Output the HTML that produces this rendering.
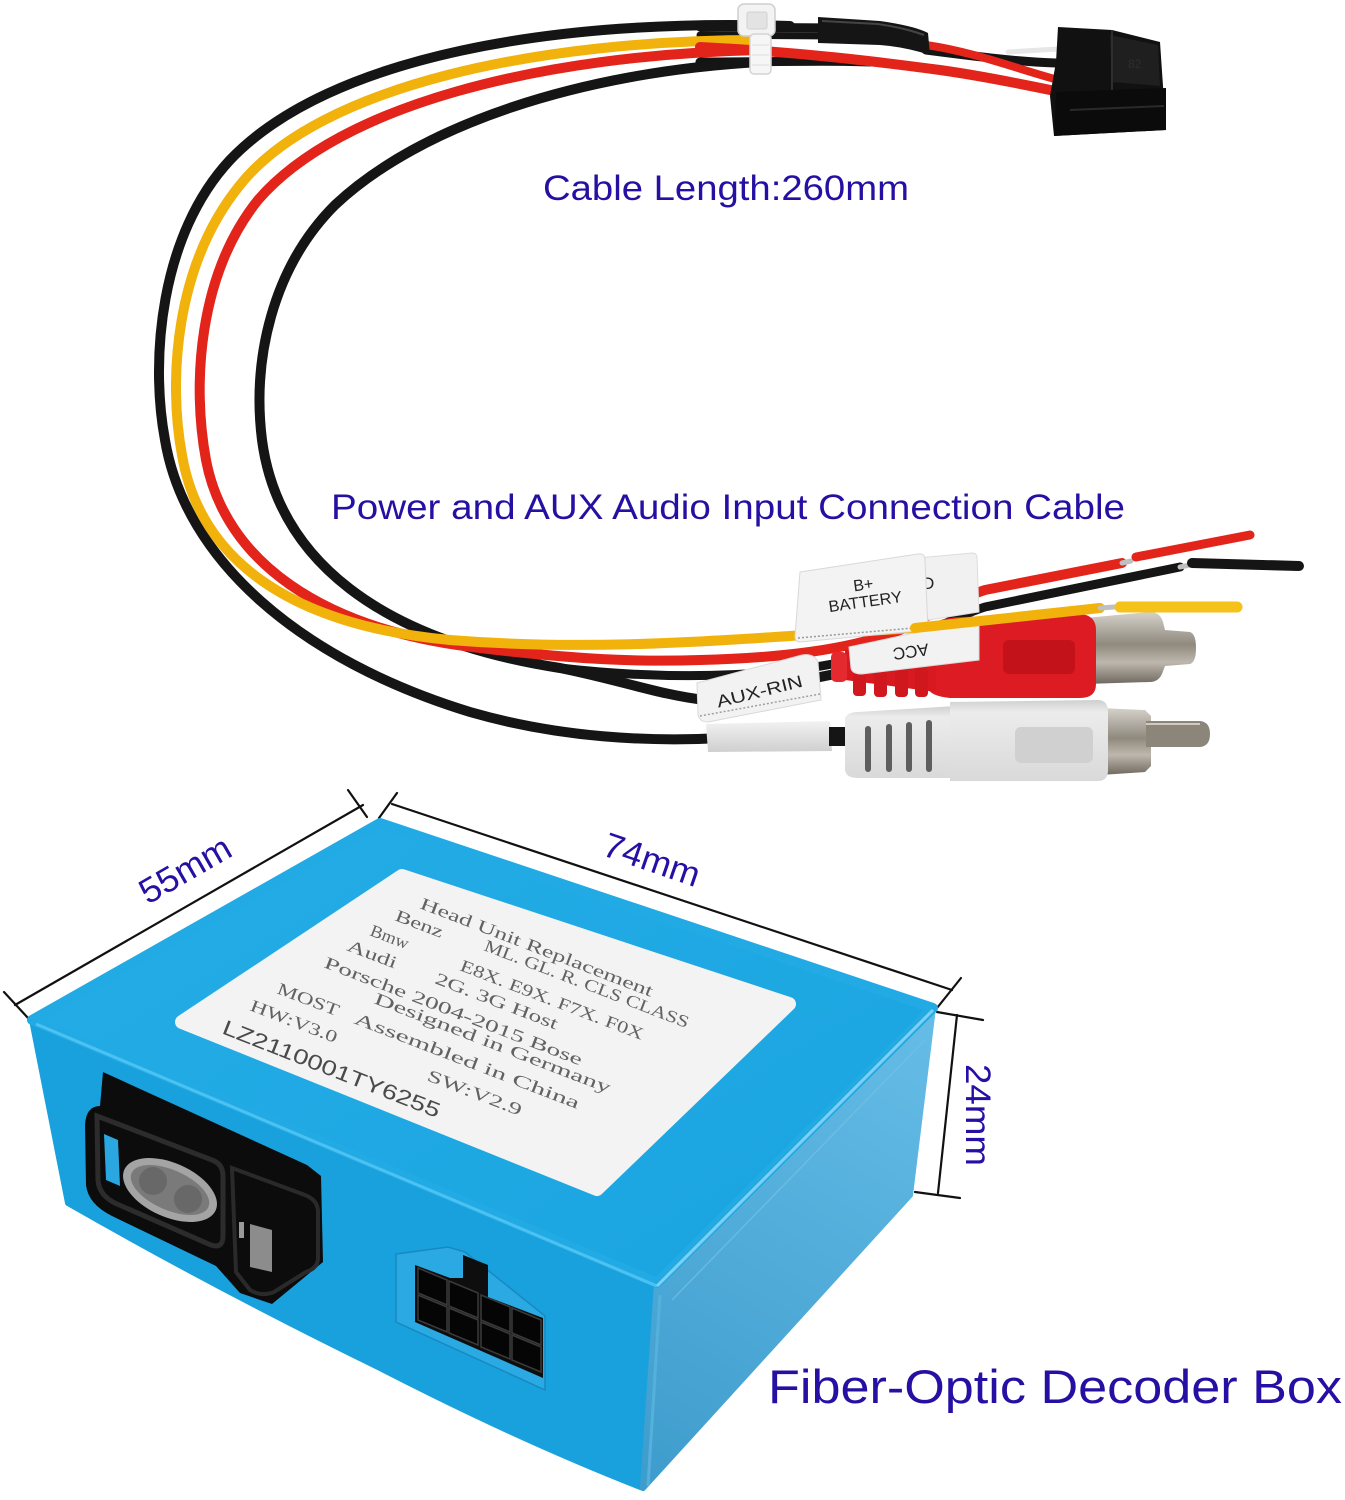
<!DOCTYPE html>
<html><head><meta charset="utf-8"><style>
html,body{margin:0;padding:0;background:#fff;}
svg{display:block;}
</style></head><body>
<svg width="1345" height="1500" viewBox="0 0 1345 1500" xmlns="http://www.w3.org/2000/svg">
<defs>
 <linearGradient id="rface" gradientUnits="userSpaceOnUse" x1="933" y1="1008" x2="660" y2="1480">
  <stop offset="0" stop-color="#66bde7"/><stop offset="1" stop-color="#3f9dcd"/>
 </linearGradient>
 <linearGradient id="tface" gradientUnits="userSpaceOnUse" x1="380" y1="823" x2="657" y2="1283">
  <stop offset="0" stop-color="#22abe5"/><stop offset="1" stop-color="#1ca6e1"/>
 </linearGradient>
 <linearGradient id="metal" x1="0" y1="0" x2="0" y2="1">
  <stop offset="0" stop-color="#d6d2ca"/><stop offset="0.45" stop-color="#8f897e"/><stop offset="0.7" stop-color="#bdb7ad"/><stop offset="1" stop-color="#6e685e"/>
 </linearGradient>
 <linearGradient id="sleeve" x1="0" y1="0" x2="0" y2="1">
  <stop offset="0" stop-color="#f2f2f2"/><stop offset="1" stop-color="#cfcfcf"/>
 </linearGradient>
 <linearGradient id="wbody" x1="0" y1="0" x2="0" y2="1">
  <stop offset="0" stop-color="#cfcfcf"/><stop offset="0.15" stop-color="#ececec"/><stop offset="1" stop-color="#d9d9d9"/>
 </linearGradient>
</defs>

<!-- ===== Texts ===== -->
<g font-family="'Liberation Sans', Arial, sans-serif" fill="#2510a3">
 <text x="543" y="200" font-size="35" textLength="366" lengthAdjust="spacingAndGlyphs">Cable Length:260mm</text>
 <text x="331" y="519" font-size="35" textLength="794" lengthAdjust="spacingAndGlyphs">Power and AUX Audio Input Connection Cable</text>
 <text x="768" y="1403" font-size="47" textLength="574" lengthAdjust="spacingAndGlyphs">Fiber-Optic Decoder Box</text>
 <text x="191" y="880" font-size="35" text-anchor="middle" textLength="100" lengthAdjust="spacingAndGlyphs" transform="rotate(-30 191 880)">55mm</text>
 <text x="648" y="871" font-size="35" text-anchor="middle" textLength="100" lengthAdjust="spacingAndGlyphs" transform="rotate(19 648 871)">74mm</text>
 <text x="966" y="1115" font-size="35" text-anchor="middle" textLength="102" lengthAdjust="spacingAndGlyphs" transform="rotate(90 966 1115)">24mm</text>
</g>

<!-- ===== Dimension lines ===== -->
<g stroke="#111" stroke-width="2.2" fill="none" stroke-linecap="round">
 <line x1="15" y1="1005" x2="363" y2="805"/>
 <line x1="4" y1="992" x2="28" y2="1018"/>
 <line x1="348" y1="790" x2="367" y2="817"/>
 <line x1="392" y1="804" x2="952" y2="990"/>
 <line x1="379" y1="818" x2="397" y2="793"/>
 <line x1="937" y1="1008" x2="961" y2="978"/>
 <line x1="957" y1="1015" x2="938" y2="1193"/>
 <line x1="937" y1="1012" x2="983" y2="1020"/>
 <line x1="915" y1="1192" x2="960" y2="1198"/>
</g>

<!-- ===== Cable loop ===== -->
<g fill="none" stroke-linecap="round" stroke-linejoin="round">
 <path d="M700,27 L840,28" stroke="#141414" stroke-width="9"/>
 <path d="M700,35 L840,36" stroke="#141414" stroke-width="7"/>
 <path d="M700,62 C780,62 830,60 870,62" stroke="#141414" stroke-width="9"/>
 <path d="M790,26 C560,18 330,55 230,160 C160,235 150,360 165,440 C185,560 300,660 470,712 C560,738 650,742 722,738" stroke="#151515" stroke-width="10"/>
 <path d="M760,62 C580,72 420,125 335,205 C272,268 252,360 262,440 C278,560 380,640 560,668 C620,680 660,695 705,700 L845,672" stroke="#151515" stroke-width="10"/>
 <path d="M560,668 C680,682 800,676 870,655 C920,640 950,618 985,607 L1180,567" stroke="#151515" stroke-width="9"/>
 <path d="M760,50 C540,55 340,105 258,200 C198,275 192,385 206,460 C225,560 320,630 480,648 C580,660 640,662 700,660 C780,658 850,650 900,630 C930,615 960,598 985,590 L1122,563" stroke="#e3241b" stroke-width="10"/>
 <path d="M760,40 C540,40 320,85 240,185 C175,265 168,380 182,455 C200,560 290,625 450,640 C600,652 720,640 915,628" stroke="#f2b20c" stroke-width="10"/>
 <path d="M700,47 C800,52 880,62 940,70 C990,77 1030,86 1060,92" stroke="#e3241b" stroke-width="10"/>
 <path d="M926,50 C980,57 1020,62 1056,63" stroke="#141414" stroke-width="9"/>
 <path d="M1008,52 L1058,49" stroke="#e6e6e6" stroke-width="5"/>
 <path d="M926,45 C975,52 1020,70 1062,81" stroke="#e3241b" stroke-width="8"/>
 <path d="M1122,563 L1131,561" stroke="#c0c0c0" stroke-width="5"/>
 <path d="M1136,557 L1250,535" stroke="#e3241b" stroke-width="9"/>
 <path d="M1180,567 L1190,565" stroke="#c0c0c0" stroke-width="5"/>
 <path d="M1192,563 L1299,566" stroke="#151515" stroke-width="10"/>
</g>

<!-- heat-shrink sleeve -->
<path d="M818,17 L880,21 Q915,26 928,33 L930,55 Q905,47 880,45 L818,43 Z" fill="#151515"/>
<path d="M822,21 L878,24 Q905,28 924,35" fill="none" stroke="#444" stroke-width="2"/>

<!-- top connector -->
<polygon points="1058,27 1112,30 1160,42 1166,130 1054,136 1050,96 1056,62" fill="#111"/>
<polygon points="1110,35 1158,45 1160,86 1112,82" fill="#1f1f1f"/>
<polygon points="1056,92 1166,88 1166,130 1054,136" fill="#0b0b0b"/>
<line x1="1070" y1="110" x2="1164" y2="106" stroke="#2a2a2a" stroke-width="2"/>
<line x1="1112" y1="30" x2="1112" y2="90" stroke="#2e2e2e" stroke-width="2"/>
<text x="1128" y="68" font-family="'Liberation Sans',sans-serif" font-size="12" fill="#2e2e2e">82</text>

<!-- cable tie -->
<rect x="738" y="4" width="37" height="32" rx="6" fill="#f3f3f3" stroke="#cfcfcf" stroke-width="1.5"/>
<rect x="747" y="12" width="20" height="17" rx="2" fill="#e3e3e3" stroke="#d2d2d2"/>
<rect x="750" y="34" width="21" height="40" rx="4" fill="#f6f6f6" stroke="#d4d4d4" stroke-width="1.5"/>
<line x1="752" y1="45" x2="769" y2="45" stroke="#dcdcdc"/>
<line x1="752" y1="55" x2="769" y2="55" stroke="#dcdcdc"/>
<line x1="752" y1="65" x2="769" y2="65" stroke="#dcdcdc"/>

<!-- ===== Labels & plugs ===== -->
<path d="M918,558 L972,553 Q977,553 977,558 L979,612 L928,620 Z" fill="#f1f1f1" stroke="#dcdcdc"/>
<text x="922" y="589" font-family="'Liberation Sans',sans-serif" font-size="17" fill="#222">D</text>

<path d="M1085,618 L1150,612 Q1160,612 1163,622 L1165,630 L1190,632 Q1196,634 1196,648 Q1196,662 1190,664 L1165,666 L1162,674 Q1158,682 1150,682 L1085,684 Z" fill="url(#metal)"/>
<path d="M928,630 Q934,618 960,617 L1080,614 Q1096,615 1096,630 L1096,684 Q1096,698 1080,698 L950,698 Q930,696 928,688 Z" fill="#dc1c22"/>
<rect x="1003" y="640" width="72" height="34" rx="6" fill="#c4121a"/>
<path d="M845,650 L936,643 L936,692 L845,680 Z" fill="#d81a20"/>
<rect x="853" y="668" width="13" height="28" rx="4" fill="#d0171e"/>
<rect x="874" y="668" width="13" height="29" rx="4" fill="#d0171e"/>
<rect x="895" y="668" width="13" height="29" rx="4" fill="#d0171e"/>
<rect x="915" y="668" width="13" height="29" rx="4" fill="#d0171e"/>
<rect x="831" y="652" width="16" height="30" rx="5" fill="#e52a2f"/>

<path d="M849,647 L975,620 Q979,620 979,626 L979,660 L862,674 Q852,674 851,668 Z" fill="#f2f2f2" stroke="#dadada"/>
<text x="910" y="646" font-family="'Liberation Sans',sans-serif" font-size="17" fill="#222" text-anchor="middle" transform="rotate(172 910 646)">ACC</text>

<path d="M800,572 L918,554 Q925,553 925,560 L928,630 L800,642 Q795,642 795,636 Z" fill="#f3f3f3" stroke="#d8d8d8"/>
<line x1="798" y1="638" x2="925" y2="627" stroke="#9a9a9a" stroke-width="1.5" stroke-dasharray="2 2"/>
<text x="864" y="590" font-family="'Liberation Sans',sans-serif" font-size="16" fill="#222" text-anchor="middle" transform="rotate(-8 864 590)">B+</text>
<text x="866" y="607" font-family="'Liberation Sans',sans-serif" font-size="16" fill="#222" text-anchor="middle" textLength="74" lengthAdjust="spacingAndGlyphs" transform="rotate(-8 866 607)">BATTERY</text>

<g fill="none" stroke-linecap="round">
 <path d="M915,628 L1100,608" stroke="#f2b20c" stroke-width="10"/>
 <path d="M1100,608 L1114,607" stroke="#c0c0c0" stroke-width="5"/>
 <path d="M1120,607 L1237,607" stroke="#f5c21a" stroke-width="11"/>
</g>

<path d="M697,683 L802,655 Q814,653 818,662 L821,700 L708,722 Q699,722 698,714 Z" fill="#f2f2f2" stroke="#d8d8d8"/>
<line x1="700" y1="716" x2="820" y2="694" stroke="#a0a0a0" stroke-width="1.5" stroke-dasharray="2 2"/>
<text x="761" y="697" font-family="'Liberation Sans',sans-serif" font-size="17" fill="#222" text-anchor="middle" textLength="88" lengthAdjust="spacingAndGlyphs" transform="rotate(-14 761 697)">AUX-RIN</text>

<path d="M706,724 L830,721 L832,751 L708,752 Z" fill="url(#sleeve)"/>
<rect x="829" y="727" width="20" height="19" fill="#151515"/>
<path d="M1100,708 L1145,710 L1151,716 L1151,766 L1145,772 L1100,775 Z" fill="url(#metal)"/>
<path d="M1146,721 L1200,721 Q1210,722 1210,734 Q1210,746 1200,747 L1146,747 Z" fill="#8c8579"/>
<path d="M1146,724 L1200,724" stroke="#cfc9bf" stroke-width="2"/>
<path d="M845,718 Q848,712 858,712 L956,706 L956,778 L858,778 Q846,778 845,770 Z" fill="url(#wbody)"/>
<rect x="865" y="726" width="6" height="46" rx="3" fill="#5e5e5e"/>
<rect x="886" y="724" width="6" height="48" rx="3" fill="#5e5e5e"/>
<rect x="906" y="722" width="6" height="50" rx="3" fill="#5e5e5e"/>
<rect x="926" y="720" width="6" height="52" rx="3" fill="#5e5e5e"/>
<path d="M950,702 L1098,700 Q1108,700 1108,712 L1108,770 Q1108,781 1098,781 L950,781 Z" fill="url(#wbody)"/>
<rect x="1015" y="727" width="78" height="36" rx="6" fill="#d0d0d0"/>

<!-- ===== Decoder box ===== -->
<g stroke-linejoin="round">
 <path d="M32,1020 L657,1283 L643,1488 Q520,1440 380,1368 Q220,1290 68,1203 Z" fill="#19a1dd" stroke="#19a1dd" stroke-width="6"/>
 <path d="M657,1283 L933,1008 L910,1195 L643,1488 Z" fill="url(#rface)" stroke="url(#rface)" stroke-width="6"/>
 <path d="M380,823 L933,1008 L657,1283 L32,1020 Z" fill="url(#tface)" stroke="#22aae4" stroke-width="10"/>
</g>
<path d="M36,1024 L657,1286" stroke="#4cc2f2" stroke-width="3" fill="none"/>
<path d="M657,1286 L933,1010" stroke="#7fd0f3" stroke-width="3" fill="none"/>
<path d="M660,1295 L648,1486" stroke="#56b0dc" stroke-width="3" fill="none"/>
<path d="M925,1040 L672,1300" stroke="#72c0e6" stroke-width="1.5" fill="none" opacity="0.7"/>

<path d="M402,876 L789,1004 L597,1189 L182,1022 Z" fill="#f3f3f3" stroke="#f3f3f3" stroke-width="14" stroke-linejoin="round"/>

<g font-family="'Liberation Serif','DejaVu Serif',serif" font-size="17" fill="#626262">
 <text x="419" y="908" textLength="248" lengthAdjust="spacingAndGlyphs" transform="rotate(21 419 908)">Head Unit Replacement</text>
 <text x="394" y="920" textLength="50" lengthAdjust="spacingAndGlyphs" transform="rotate(21 394 920)">Benz</text>
 <text x="483" y="950" textLength="218" lengthAdjust="spacingAndGlyphs" transform="rotate(21 483 950)">ML. GL. R. CLS CLASS</text>
 <text x="369" y="935" textLength="40" lengthAdjust="spacingAndGlyphs" transform="rotate(21 369 935)">Bmw</text>
 <text x="459" y="970" textLength="195" lengthAdjust="spacingAndGlyphs" transform="rotate(21 459 970)">E8X. E9X. F7X. F0X</text>
 <text x="346" y="950" textLength="52" lengthAdjust="spacingAndGlyphs" transform="rotate(21 346 950)">Audi</text>
 <text x="434" y="983" textLength="130" lengthAdjust="spacingAndGlyphs" transform="rotate(21 434 983)">2G. 3G Host</text>
 <text x="323" y="967" textLength="275" lengthAdjust="spacingAndGlyphs" transform="rotate(21 323 967)">Porsche 2004-2015 Bose</text>
 <text x="373" y="1003" textLength="252" lengthAdjust="spacingAndGlyphs" transform="rotate(21 373 1003)">Designed in Germany</text>
 <text x="276" y="993" textLength="65" lengthAdjust="spacingAndGlyphs" transform="rotate(21 276 993)">MOST</text>
 <text x="353" y="1023" textLength="240" lengthAdjust="spacingAndGlyphs" transform="rotate(21 353 1023)">Assembled in China</text>
 <text x="249" y="1010" textLength="92" lengthAdjust="spacingAndGlyphs" transform="rotate(21 249 1010)">HW:V3.0</text>
 <text x="426" y="1080" textLength="100" lengthAdjust="spacingAndGlyphs" transform="rotate(21 426 1080)">SW:V2.9</text>
</g>
<text x="221" y="1033" font-family="'Liberation Sans',sans-serif" font-size="21" fill="#4a4a4a" textLength="232" lengthAdjust="spacingAndGlyphs" transform="rotate(21.5 221 1033)">LZ2110001TY6255</text>

<!-- fiber optic connector -->
<path d="M103,1072 L307,1165 L321,1176 L323,1262 L272,1304 L240,1293 L216,1266 L112,1216 Q88,1204 86,1185 L85,1125 Q86,1106 100,1106 Z" fill="#0c0c0c"/>
<path d="M97,1116 L212,1160 Q223,1164 223,1176 L223,1236 Q223,1249 211,1245 L117,1204 Q99,1196 98,1180 Z" fill="none" stroke="#2c2c2c" stroke-width="5"/>
<path d="M104,1134 L118,1140 L120,1186 L106,1180 Z" fill="#2aa7e0"/>
<ellipse cx="170" cy="1190" rx="50" ry="27" transform="rotate(24 170 1190)" fill="#a4a4a4"/>
<ellipse cx="170" cy="1190" rx="42" ry="20" transform="rotate(24 170 1190)" fill="#7a7a7a"/>
<circle cx="153" cy="1181" r="14" fill="#686868"/>
<circle cx="188" cy="1199" r="14" fill="#686868"/>
<path d="M232,1168 L305,1195 Q318,1200 318,1212 L318,1258 Q318,1268 306,1272 L274,1292 Q262,1297 250,1290 L236,1272 Z" fill="none" stroke="#2a2a2a" stroke-width="4"/>
<path d="M250,1224 L272,1230 L272,1272 L250,1267 Z" fill="#8c8c8c"/>
<rect x="239" y="1222" width="5" height="16" fill="#9a9a9a"/>

<!-- 8-pin connector -->
<polygon points="396,1254 448,1247 465,1252 545,1316 545,1390 396,1322" fill="#2aa9e3" stroke="#1789c0" stroke-width="1.5"/>
<polygon points="415,1265 450,1278 463,1278 463,1255 488,1265 488,1297 543,1318 543,1378 415,1322" fill="#0e0e0e"/>
<g fill="#050505" stroke="#3a3a3a" stroke-width="1.5">
 <polygon points="418,1268 447,1280 447,1305 418,1293"/>
 <polygon points="449,1281 478,1293 478,1318 449,1306"/>
 <polygon points="481,1295 510,1307 510,1332 481,1320"/>
 <polygon points="512,1308 541,1320 541,1345 512,1333"/>
 <polygon points="418,1295 447,1307 447,1332 418,1320"/>
 <polygon points="449,1308 478,1320 478,1345 449,1333"/>
 <polygon points="481,1322 510,1334 510,1359 481,1347"/>
 <polygon points="512,1335 541,1347 541,1372 512,1360"/>
</g>
</svg>
</body></html>
